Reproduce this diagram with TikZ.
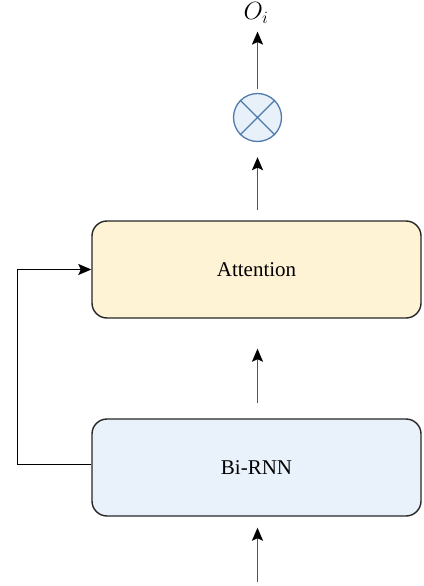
\documentclass[tikz,border=0pt]{standalone}
\usepackage{fontspec}
\setmainfont{Liberation Serif}
\usetikzlibrary{arrows.meta,calc}
\definecolor{attfill}{HTML}{FFF3D6}
\definecolor{rnnfill}{HTML}{E9F1FB}
\definecolor{boxline}{HTML}{262626}
\definecolor{arrline}{HTML}{555555}
\definecolor{opline}{HTML}{4F7AAD}
\definecolor{opfill}{HTML}{E8F0FA}
\tikzset{
  block/.style={draw=boxline, line width=1.4pt, rounded corners=15pt,
    minimum width=329pt, minimum height=97pt, inner sep=0pt,
    font=\fontsize{21}{25}\selectfont},
  flow/.style={draw=arrline, line width=1.8pt,
    -{Stealth[length=13pt,width=11pt,inset=2.5pt,fill=black,color=black]}},
  loopline/.style={draw=black, line width=1.3pt,
    -{Stealth[length=13pt,width=11pt,inset=2.5pt]}},
  mult/.style={circle, draw=opline, fill=opfill, line width=1.3pt,
    minimum size=48pt, inner sep=0pt},
}
\begin{document}
\begin{tikzpicture}[x=1pt,y=-1pt]
  \useasboundingbox (0,0) rectangle (423,586);
  % processing blocks
  \node[block, fill=attfill] (att) at (256.5,269.5) {Attention};
  \node[block, fill=rnnfill] (rnn) at (256.5,467.5) {Bi-RNN};
  % element-wise product
  \node[mult] (op) at (257.5,117.5) {};
  \draw[opline, line width=1.3pt] (op.north west) -- (op.south east)
                                  (op.north east) -- (op.south west);
  % output label
  \node[font=\fontsize{23}{27}\selectfont, inner sep=0pt] (out) at (256,13) {$O_i$};
  % input at the bottom
  \coordinate (in) at (257.5,582);
  % vertical flow
  \draw[flow, shorten >=11pt] (in) -- (rnn.south -| in);
  \draw[flow, shorten <=15pt, shorten >=30pt] (rnn.north -| in) -- (att.south -| in);
  \draw[flow, shorten <=10pt, shorten >=15pt] (att.north -| op) -- (op.south);
  \draw[flow, shorten <=4pt, shorten >=8pt] (op.north) -- (op.north |- out.south);
  % skip connection around the left side
  \draw[loopline] (rnn.west) ++(0,-3) -- ++(-74,0) |- (att.west);
\end{tikzpicture}
\end{document}
